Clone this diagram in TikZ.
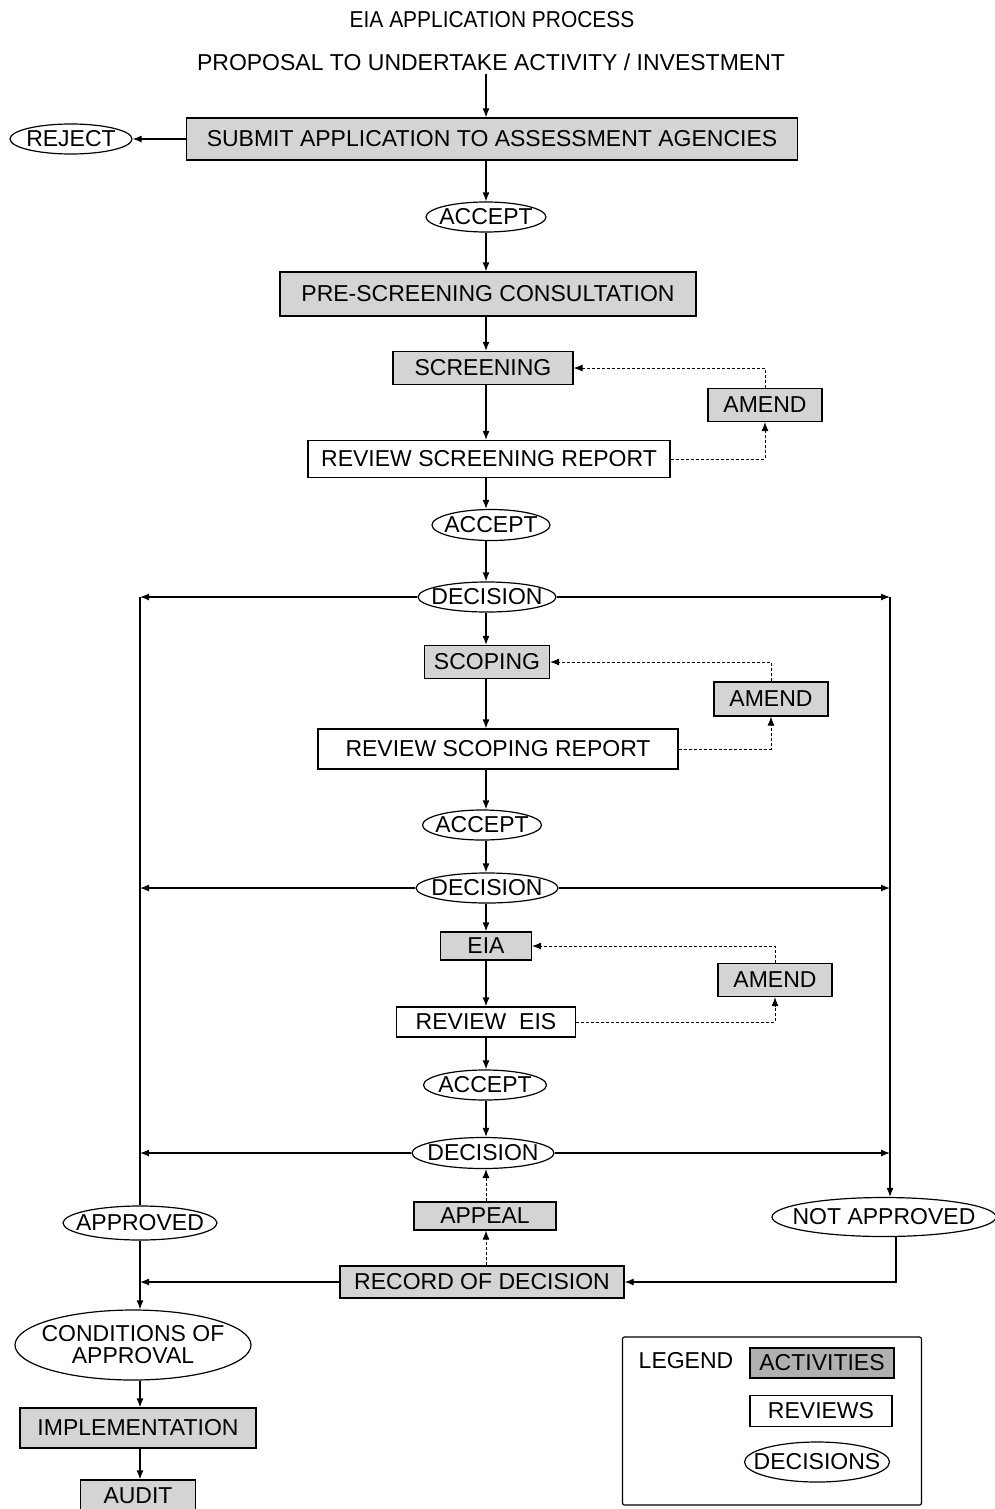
\documentclass[tikz,border=0pt]{standalone}
\usepackage{fontspec}
\setmainfont{Liberation Sans}
\usetikzlibrary{shapes.geometric,arrows.meta}
\definecolor{actcolor}{HTML}{D4D4D4}
\definecolor{legcolor}{HTML}{B0B0B0}
\tikzset{
  activity/.style={draw, rectangle, fill=actcolor, line width=1.2pt, inner sep=2pt, font=\fontsize{23}{25}\selectfont},
  review/.style={draw, rectangle, fill=white, line width=1.2pt, inner sep=2pt, font=\fontsize{23}{25}\selectfont},
  decision/.style={draw, ellipse, fill=white, line width=1.2pt, inner xsep=-14pt, inner ysep=0pt, font=\fontsize{23}{23}\selectfont},
  arr/.style={-{Latex[length=9pt,width=7pt]}, line width=1.2pt},
  amendarr/.style={-{Latex[length=9pt,width=7pt]}, line width=0.9pt, densely dashed},
}

\begin{document}
\begin{tikzpicture}[x=1pt, y=-1pt]
\useasboundingbox (0,0) rectangle (995,1509);%
% titles
\node[font=\fontsize{23}{25}\selectfont] (title) at (492,20) {\scalebox{0.91}[1]{EIA APPLICATION PROCESS}};%
\node[font=\fontsize{23}{25}\selectfont] (proposal) at (491,62) {PROPOSAL TO UNDERTAKE ACTIVITY / INVESTMENT};%
\coordinate (spine) at (486,0);%
\coordinate (lx) at (140,0);%
\coordinate (rx) at (890,0);%
\coordinate (nx) at (896,0);%
% submission
\node[activity, minimum width=611, minimum height=42] (submit) at (492,139) {SUBMIT APPLICATION TO ASSESSMENT AGENCIES};%
\node[decision, minimum width=122, minimum height=30] (reject) at (71,139) {REJECT};%
\node[decision, minimum width=120, minimum height=30] (accept1) at (486,217) {ACCEPT};%
\node[activity, minimum width=416, minimum height=44] (prescreen) at (488,294) {PRE-SCREENING CONSULTATION};%
% screening
\node[activity, minimum width=180, minimum height=33] (screening) at (483,368) {SCREENING};%
\node[activity, minimum width=114, minimum height=33] (amend1) at (765,405) {AMEND};%
\node[review, minimum width=362, minimum height=37] (review1) at (489,459) {REVIEW SCREENING REPORT};%
\node[decision, minimum width=118, minimum height=31] (accept2) at (491,525) {ACCEPT};%
\node[decision, minimum width=138, minimum height=30] (decision1) at (487,597) {DECISION};%
% scoping
\node[activity, minimum width=125, minimum height=33] (scoping) at (487,662) {SCOPING};%
\node[activity, minimum width=114, minimum height=34] (amend2) at (771,699) {AMEND};%
\node[review, minimum width=360, minimum height=40] (review2) at (498,749) {REVIEW SCOPING REPORT};%
\node[decision, minimum width=119, minimum height=30] (accept3) at (482,825) {ACCEPT};%
\node[decision, minimum width=142, minimum height=30] (decision2) at (487,888) {DECISION};%
% eia
\node[activity, minimum width=91, minimum height=28] (eia) at (486,946) {EIA};%
\node[activity, minimum width=114, minimum height=33] (amend3) at (775,980) {AMEND};%
\node[review, minimum width=179, minimum height=30] (review3) at (486,1022) {REVIEW\ \ EIS};%
\node[decision, minimum width=123, minimum height=30] (accept4) at (485,1085) {ACCEPT};%
\node[decision, minimum width=142, minimum height=31] (decision3) at (483,1153) {DECISION};%
% outcome
\node[activity, minimum width=142, minimum height=28] (appeal) at (485,1216) {APPEAL};%
\node[activity, minimum width=284, minimum height=32] (record) at (482,1282) {RECORD OF DECISION};%
\node[decision, minimum width=154, minimum height=34] (approved) at (140,1223) {APPROVED};%
\node[decision, minimum width=224, minimum height=39] (notapp) at (884,1217) {NOT APPROVED};%
\node[decision, minimum width=236, minimum height=70, align=center, font=\fontsize{23}{22}\selectfont] (conditions) at (133,1345) {CONDITIONS OF\\APPROVAL};%
\node[activity, minimum width=236, minimum height=40] (implement) at (138,1428) {IMPLEMENTATION};%
\node[activity, minimum width=115, minimum height=32] (audit) at (138,1496) {AUDIT};%
% main flow
\draw[arr] (proposal.south -| spine) -- (submit.north -| spine);%
\draw[arr] (submit.west) -- (reject.east);%
\draw[arr] (submit.south -| spine) -- (accept1.north -| spine);%
\draw[arr] (accept1.south -| spine) -- (prescreen.north -| spine);%
\draw[arr] (prescreen.south -| spine) -- (screening.north -| spine);%
\draw[arr] (screening.south -| spine) -- (review1.north -| spine);%
\draw[arr] (review1.south -| spine) -- (accept2.north -| spine);%
\draw[arr] (accept2.south -| spine) -- (decision1.north -| spine);%
\draw[arr] (decision1.south -| spine) -- (scoping.north -| spine);%
\draw[arr] (scoping.south -| spine) -- (review2.north -| spine);%
\draw[arr] (review2.south -| spine) -- (accept3.north -| spine);%
\draw[arr] (accept3.south -| spine) -- (decision2.north -| spine);%
\draw[arr] (decision2.south -| spine) -- (eia.north -| spine);%
\draw[arr] (eia.south -| spine) -- (review3.north -| spine);%
\draw[arr] (review3.south -| spine) -- (accept4.north -| spine);%
\draw[arr] (accept4.south -| spine) -- (decision3.north -| spine);%
% amend loops
\draw[amendarr] (review1.east) -- (review1.east -| amend1.south) -- (amend1.south);%
\draw[amendarr] (amend1.north) -- (amend1.north |- screening.east) -- (screening.east);%
\draw[amendarr] (review2.east) -- (review2.east -| amend2.south) -- (amend2.south);%
\draw[amendarr] (amend2.north) -- (amend2.north |- scoping.east) -- (scoping.east);%
\draw[amendarr] (review3.east) -- (review3.east -| amend3.south) -- (amend3.south);%
\draw[amendarr] (amend3.north) -- (amend3.north |- eia.east) -- (eia.east);%
% decision branches
\draw[arr] (decision1.west) -- (decision1.west -| lx);%
\draw[arr] (decision1.east) -- (decision1.east -| rx);%
\draw[arr] (decision2.west) -- (decision2.west -| lx);%
\draw[arr] (decision2.east) -- (decision2.east -| rx);%
\draw[arr] (decision3.west) -- (decision3.west -| lx);%
\draw[arr] (decision3.east) -- (decision3.east -| rx);%
\draw[line width=1.2pt] (decision1.west -| lx) -- (approved.north);%
\draw[arr] (decision1.east -| rx) -- (notapp.north -| rx);%
\draw[amendarr] (record.north -| spine) -- (appeal.south -| spine);%
\draw[amendarr] (appeal.north -| spine) -- (decision3.south -| spine);%
\draw[arr] (notapp.south -| nx) -- (record.east -| nx) -- (record.east);%
\draw[arr] (record.west) -- (record.west -| lx);%
\draw[arr] (approved.south) -- (conditions.north -| lx);%
\draw[arr] (conditions.south -| lx) -- (implement.north -| lx);%
\draw[arr] (implement.south -| lx) -- (audit.north -| lx);%
% legend
\node[draw, rounded corners=2pt, line width=1.2pt, minimum width=299, minimum height=168] (legend) at (772,1421) {};%
\node[font=\fontsize{23}{25}\selectfont] (legendlabel) at (686,1361) {LEGEND};%
\node[activity, fill=legcolor, minimum width=144, minimum height=30] (legact) at (822,1363) {ACTIVITIES};%
\node[review, minimum width=142, minimum height=31] (legrev) at (821,1411) {REVIEWS};%
\node[decision, minimum width=145, minimum height=40] (legdec) at (817,1462) {DECISIONS};%
\end{tikzpicture}
\end{document}
